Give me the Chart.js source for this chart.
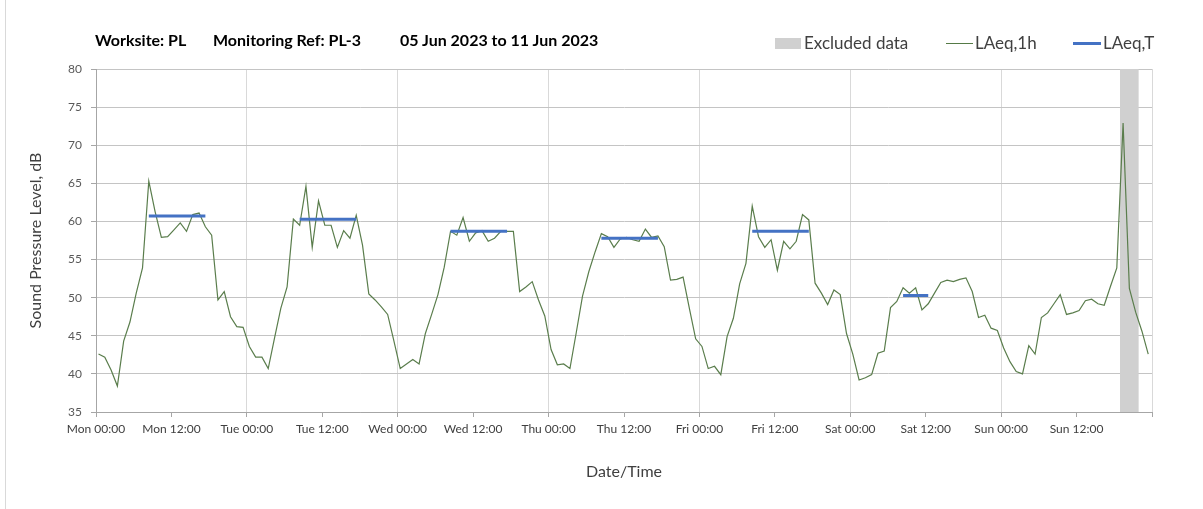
<!DOCTYPE html>
<html lang="en">
<head>
    <meta charset="UTF-8">
    <title>PL-3 noise monitoring</title>
    <script src="https://cdn.jsdelivr.net/npm/chart.js"></script>
    <style>
        body {
            margin: 0;
            background: #fff;
            font-family: Lato, "Open Sans", sans-serif;
        }

        .wrap {
            position: relative;
            width: 1203px;
            height: 509px;
        }

        .frame {
            position: absolute;
            left: 5px;
            top: 0;
            bottom: 0;
            border-left: 1px solid #d9d9d9;
        }

        #chart {
            position: absolute;
            left: 0;
            top: 0;
        }

        .title span {
            position: absolute;
            top: 30px;
            font-size: 16px;
            line-height: 20px;
            font-weight: bold;
            color: #000;
            white-space: nowrap;
        }

        .legend div {
            position: absolute;
        }

        .legend .txt {
            top: 33px;
            font-size: 17px;
            line-height: 20px;
            color: #404040;
            white-space: nowrap;
        }
    </style>
</head>
<body>
<div class="wrap">
    <div class="frame"></div>
    <canvas id="chart" width="1203" height="509"></canvas>
    <div class="title">
        <span style="left:95px">Worksite: PL</span>
        <span style="left:213px">Monitoring Ref: PL-3</span>
        <span style="left:400px">05 Jun 2023 to 11 Jun 2023</span>
    </div>
    <div class="legend">
        <div style="left:775px;top:38px;width:26px;height:11px;background:#d0d0d0"></div>
        <div class="txt" style="left:804px">Excluded data</div>
        <div style="left:946px;top:43px;width:27px;height:1px;background:#557a46"></div>
        <div class="txt" style="left:975px">LAeq,1h</div>
        <div style="left:1073px;top:42px;width:28px;height:3px;background:#4472c4"></div>
        <div class="txt" style="left:1103px">LAeq,T</div>
    </div>
</div>
<script>
    // x axis labels, one every 12 hours
    var tickLabels = ['Mon 00:00', 'Mon 12:00', 'Tue 00:00', 'Tue 12:00', 'Wed 00:00', 'Wed 12:00',
        'Thu 00:00', 'Thu 12:00', 'Fri 00:00', 'Fri 12:00', 'Sat 00:00', 'Sat 12:00',
        'Sun 00:00', 'Sun 12:00'];

    // LAeq,1h per hour, one array per day
    var mon = [42.6, 42.2, 40.5, 38.4, 44.3, 46.8, 50.6, 53.9, 65.3, 61.3, 57.9, 58.0,
        58.9, 59.8, 58.7, 60.9, 61.1, 59.3, 58.2, 49.7, 50.8, 47.5, 46.2, 46.1];
    var tue = [43.6, 42.2, 42.2, 40.7, 44.7, 48.6, 51.4, 60.3, 59.5, 64.6, 56.6, 62.7,
        59.5, 59.5, 56.6, 58.8, 57.8, 60.8, 56.9, 50.5, 49.7, 48.8, 47.8, 44.3];
    var wed = [40.7, 41.3, 41.9, 41.3, 45.3, 47.8, 50.4, 54.0, 58.7, 58.2, 60.5, 57.4,
        58.5, 58.8, 57.4, 57.8, 58.7, 58.7, 58.7, 50.8, 51.4, 52.1, 49.7, 47.6];
    var thu = [43.2, 41.2, 41.3, 40.7, 45.4, 50.2, 53.4, 56.0, 58.4, 58.0, 56.6, 57.7,
        57.9, 57.6, 57.4, 59.0, 57.9, 58.1, 56.7, 52.3, 52.4, 52.7, 48.6, 44.6];
    var fri = [43.6, 40.7, 41.0, 39.9, 44.9, 47.3, 51.8, 54.5, 62.0, 58.0, 56.6, 57.6,
        53.6, 57.4, 56.4, 57.4, 60.9, 60.2, 51.9, 50.6, 49.1, 51.0, 50.4, 45.3];
    var sat = [42.6, 39.2, 39.5, 39.9, 42.7, 43.0, 48.7, 49.5, 51.3, 50.6, 51.3, 48.4,
        49.2, 50.6, 52.0, 52.3, 52.1, 52.4, 52.6, 50.8, 47.4, 47.7, 46.0, 45.7];
    var sun = [43.4, 41.6, 40.3, 40.0, 43.7, 42.6, 47.4, 48.0, 49.2, 50.4, 47.8, 48.0,
        48.3, 49.6, 49.8, 49.2, 49.0, 51.5, 53.9, 72.9, 51.2, 48.1, 45.6, 42.6];

    // LAeq,T daytime periods (hour index from Mon 00:00)
    var periodStart = [8, 32, 56, 80, 104, 128];
    var periodEnd = [17, 41, 65, 89, 113, 132];
    var periodLevel = [60.7, 60.3, 58.7, 57.8, 58.7, 50.3];

    // excluded data (hours from Mon 00:00)
    var excludedFrom = [162.9];
    var excludedTo = [165.9];

    var HOUR_OFFSET = 0.4;

    var laeq1h = [].concat(mon, tue, wed, thu, fri, sat, sun);
    var hourlyPoints = laeq1h.map(function (v, i) {
        return {x: i + HOUR_OFFSET, y: v};
    });

    var periodPoints = [];
    periodStart.forEach(function (s, k) {
        periodPoints.push({x: s + HOUR_OFFSET, y: periodLevel[k]});
        periodPoints.push({x: periodEnd[k] + HOUR_OFFSET, y: periodLevel[k]});
        periodPoints.push({x: periodEnd[k] + HOUR_OFFSET + 0.5, y: null});
    });

    var bandPoints = [];
    excludedFrom.forEach(function (f, k) {
        bandPoints.push({x: f, y: 80});
        bandPoints.push({x: excludedTo[k], y: 80});
    });

    var ctx = document.getElementById('chart').getContext('2d');
    new Chart(ctx, {
        type: 'line',
        data: {
            datasets: [{
                label: 'LAeq,T',
                data: periodPoints,
                borderColor: '#4472c4',
                borderWidth: 3,
                pointRadius: 0,
                spanGaps: false,
                order: 1
            }, {
                label: 'LAeq,1h',
                data: hourlyPoints,
                borderColor: '#5a7d4c',
                borderWidth: 1.2,
                pointRadius: 0,
                tension: 0,
                order: 2
            }, {
                label: 'Excluded data',
                data: bandPoints,
                borderWidth: 0,
                borderColor: 'rgba(0,0,0,0)',
                backgroundColor: '#d0d0d0',
                pointRadius: 0,
                fill: 'start',
                order: 3
            }]
        },
        options: {
            responsive: false,
            animation: false,
            layout: {
                padding: {left: 0, right: 51, top: 69, bottom: 0}
            },
            plugins: {
                legend: {display: false},
                tooltip: {enabled: false}
            },
            scales: {
                x: {
                    type: 'linear',
                    min: 0,
                    max: 168,
                    afterFit: function (scale) {
                        scale.height = 97;
                    },
                    ticks: {
                        stepSize: 12,
                        autoSkip: false,
                        maxRotation: 0,
                        padding: 5,
                        color: '#404040',
                        font: {family: 'Lato', size: 12},
                        callback: function (v) {
                            return tickLabels[v / 12] || '';
                        }
                    },
                    grid: {
                        color: function (c) {
                            return c.tick && c.tick.value % 24 === 0 ? '#d9d9d9' : 'rgba(0,0,0,0)';
                        },
                        tickColor: '#a6a6a6',
                        tickLength: 5,
                        lineWidth: 1
                    },
                    border: {color: '#a6a6a6', width: 1},
                    title: {
                        display: true,
                        text: 'Date/Time',
                        color: '#404040',
                        font: {family: 'Lato', size: 16},
                        padding: {top: 0, bottom: 28}
                    }
                },
                y: {
                    min: 35,
                    max: 80,
                    afterFit: function (scale) {
                        scale.width = 96;
                    },
                    ticks: {
                        stepSize: 5,
                        padding: 9,
                        color: '#595959',
                        font: {family: 'Lato', size: 12}
                    },
                    grid: {
                        color: '#c4c4c4',
                        tickColor: '#a6a6a6',
                        tickLength: 5,
                        lineWidth: 1
                    },
                    border: {color: '#a6a6a6', width: 1},
                    title: {
                        display: true,
                        text: 'Sound Pressure Level, dB',
                        color: '#404040',
                        font: {family: 'Lato', size: 16},
                        padding: {top: 26, bottom: 0}
                    }
                }
            }
        }
    });
</script>
</body>
</html>
